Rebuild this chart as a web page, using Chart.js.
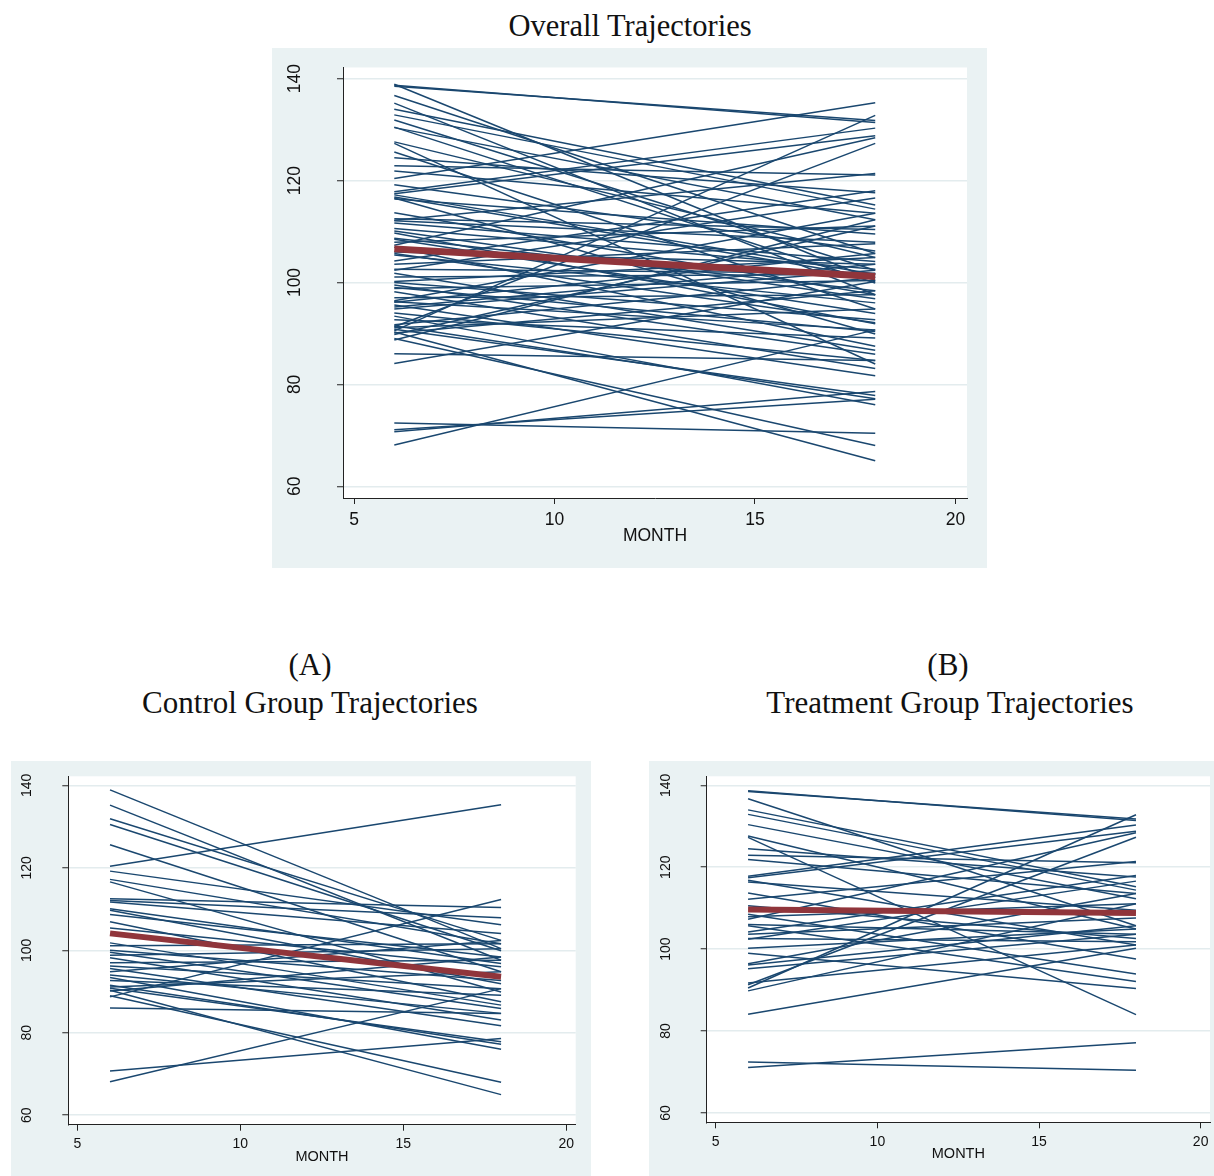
<!DOCTYPE html>
<html>
<head>
<meta charset="utf-8">
<script src="https://cdn.jsdelivr.net/npm/chart.js@4.4.0/dist/chart.umd.min.js"></script>
<style>
  body { margin: 0; width: 1214px; height: 1176px; overflow: hidden; background: #fff; position: relative; }
  .title { position: absolute; font-family: "Liberation Serif", "DejaVu Serif", serif; color: #111; text-align: center; white-space: nowrap; line-height: 1; }
  .box { position: absolute; background: #eaf2f3; }
  .box canvas { display: block; }
</style>
</head>
<body>
<div class="title" style="left:430px; top:11px; width:400px; font-size:30.5px;">Overall Trajectories</div>
<div class="box" style="left:272px; top:48px; width:715px; height:520px;"><canvas id="overall" width="715" height="520"></canvas></div>

<div class="title" style="left:110px; top:649px; width:400px; font-size:31px;">(A)</div>
<div class="title" style="left:110px; top:687px; width:400px; font-size:31px;">Control Group Trajectories</div>
<div class="box" style="left:11px; top:761px; width:580px; height:415px;"><canvas id="control" width="580" height="415"></canvas></div>

<div class="title" style="left:748px; top:649px; width:400px; font-size:31px;">(B)</div>
<div class="title" style="left:750px; top:687px; width:400px; font-size:31px;">Treatment Group Trajectories</div>
<div class="box" style="left:649px; top:761px; width:565px; height:415px;"><canvas id="treatment" width="565" height="415"></canvas></div>

<script>
// each subject is measured at month 6 and month 18
const months = [6, 18];
const xTickValues = [5, 10, 15, 20];
const yTickValues = [60, 80, 100, 120, 140];

// control group: value at month 6 and month 18
const controlStart = [138.9, 135.2, 131.9, 130.5, 125.6, 120.4, 119.2, 117.2, 116.6, 112.5,
                      112.1, 111.7, 110.1, 109.7, 108.7, 106.9, 105.4, 101.8, 101.1, 100.0,
                      99.5, 98.8, 98.2, 97.0, 96.2, 95.6, 94.8, 94.0, 93.4, 92.7,
                      91.5, 91.1, 90.3, 90.1, 88.7, 86.0, 89.0, 70.7, 68.1, 90.8];
const controlEnd = [100.4, 97.6, 102.4, 99.9, 94.8, 135.3, 106.2, 101.6, 89.9, 110.4,
                    107.9, 104.1, 96.8, 91.9, 98.4, 87.5, 96.0, 86.7, 101.6, 92.7,
                    85.9, 100.4, 83.1, 97.6, 90.7, 81.7, 102.4, 84.7, 76.0, 89.1,
                    77.2, 94.8, 65.0, 98.4, 112.3, 84.7, 68.0, 78.6, 90.7, 77.8];

// treatment group: value at month 6 and month 18
const treatStart = [138.7, 138.5, 136.7, 134.0, 132.9, 130.4, 127.6, 127.3, 124.5, 122.9,
                    121.9, 117.8, 117.4, 116.8, 116.4, 113.7, 112.2, 110.6, 108.5, 107.9,
                    107.3, 106.0, 105.7, 104.2, 103.6, 102.6, 102.4, 100.2, 99.0, 96.4,
                    96.1, 95.2, 91.7, 91.3, 90.5, 89.8, 84.1, 72.4, 71.1];
const treatEnd = [131.4, 131.8, 105.7, 115.2, 114.4, 112.3, 104.9, 84.0, 117.6, 121.1,
                  113.6, 130.3, 128.8, 101.0, 109.5, 97.6, 121.4, 102.6, 93.9, 111.1,
                  128.4, 103.6, 92.1, 118.0, 107.6, 101.8, 116.6, 104.9, 90.4, 113.6,
                  105.7, 103.6, 101.0, 127.3, 132.8, 111.1, 100.2, 70.4, 77.1];

// fitted mean trajectories (month 6, month 18)
const overallMean = [106.6, 101.2];
const controlMean = [104.1, 93.6];
const treatMean = [109.7, 108.8];

const navy = "#1a476f";
const maroon = "#90353b";
const axisColor = "#222";
const sans = "'Liberation Sans', Arial, sans-serif";

function lineSets(starts, ends) {
    return starts.map(function (s, i) {
        return {
            data: [{ x: months[0], y: s }, { x: months[1], y: ends[i] }],
            borderColor: navy,
            borderWidth: 1.5,
            pointRadius: 0,
            order: 1,
        };
    });
}

// white plot region, like the graph's inner area
const plotBg = {
    id: "plotBg",
    beforeDraw(chart) {
        const a = chart.chartArea;
        chart.ctx.save();
        chart.ctx.fillStyle = "#fff";
        chart.ctx.fillRect(a.left, a.top, a.right - a.left, a.bottom - a.top);
        chart.ctx.restore();
    },
};

// vertical y tick labels
const yLabels = {
    id: "yLabels",
    afterDraw(chart, args, opts) {
        const ctx = chart.ctx;
        const y = chart.scales.y;
        ctx.save();
        ctx.fillStyle = "#111";
        ctx.font = opts.size + "px " + sans;
        ctx.textAlign = "center";
        ctx.textBaseline = "middle";
        yTickValues.forEach(function (v) {
            ctx.save();
            ctx.translate(chart.chartArea.left - opts.offset, y.getPixelForValue(v));
            ctx.rotate(-Math.PI / 2);
            ctx.fillText(String(v), 0, 0);
            ctx.restore();
        });
        ctx.restore();
    },
};

function makeChart(id, starts, ends, mean, lay) {
    const meanSet = {
        data: [{ x: months[0], y: mean[0] }, { x: months[1], y: mean[1] }],
        borderColor: maroon,
        borderWidth: lay.meanWidth,
        pointRadius: 0,
        order: 0,
    };
    return new Chart(document.getElementById(id), {
        type: "line",
        data: { datasets: [meanSet].concat(lineSets(starts, ends)) },
        options: {
            responsive: false,
            animation: false,
            devicePixelRatio: 1,
            layout: { padding: { left: 0, top: lay.top, right: lay.right, bottom: 0 } },
            plugins: {
                legend: { display: false },
                tooltip: { enabled: false },
                yLabels: { offset: lay.yOff, size: lay.tick },
            },
            scales: {
                x: {
                    type: "linear",
                    min: 4.72,
                    max: 20.29,
                    afterBuildTicks: function (s) { s.ticks = xTickValues.map(v => ({ value: v })); },
                    afterFit: function (s) { s.height = lay.axisH; },
                    grid: { drawOnChartArea: false, drawTicks: true, tickLength: 6, tickColor: axisColor, tickWidth: 1 },
                    border: { color: axisColor, width: 1 },
                    ticks: { autoSkip: false, maxRotation: 0, color: "#111", padding: lay.tickPad, font: { family: sans, size: lay.tick } },
                    title: { display: true, text: "MONTH", color: "#111", font: { family: sans, size: lay.title }, padding: { top: 0, bottom: lay.titlePad } },
                },
                y: {
                    type: "linear",
                    min: 57.7,
                    max: 142.2,
                    afterBuildTicks: function (s) { s.ticks = yTickValues.map(v => ({ value: v })); },
                    afterFit: function (s) { s.width = lay.left; },
                    grid: { color: "#e3ecee", lineWidth: 1.5, drawTicks: true, tickLength: 6, tickColor: axisColor, tickWidth: 1 },
                    border: { color: axisColor, width: 1 },
                    ticks: { display: false },
                },
            },
        },
        plugins: [plotBg, yLabels],
    });
}

makeChart("overall", controlStart.concat(treatStart), controlEnd.concat(treatEnd), overallMean,
    { left: 71, right: 20, top: 19.5, axisH: 70, tick: 17.5, title: 17.5, titlePad: 21, tickPad: 6, yOff: 48, meanWidth: 7 });
makeChart("control", controlStart, controlEnd, controlMean,
    { left: 57.3, right: 15.3, top: 15.3, axisH: 51.3, tick: 14, title: 14.5, titlePad: 10, tickPad: 5, yOff: 41.5, meanWidth: 6 });
makeChart("treatment", treatStart, treatEnd, treatMean,
    { left: 57.7, right: 4, top: 15.3, axisH: 53.7, tick: 14, title: 14.5, titlePad: 13, tickPad: 5, yOff: 40.7, meanWidth: 6 });
</script>
</body>
</html>
